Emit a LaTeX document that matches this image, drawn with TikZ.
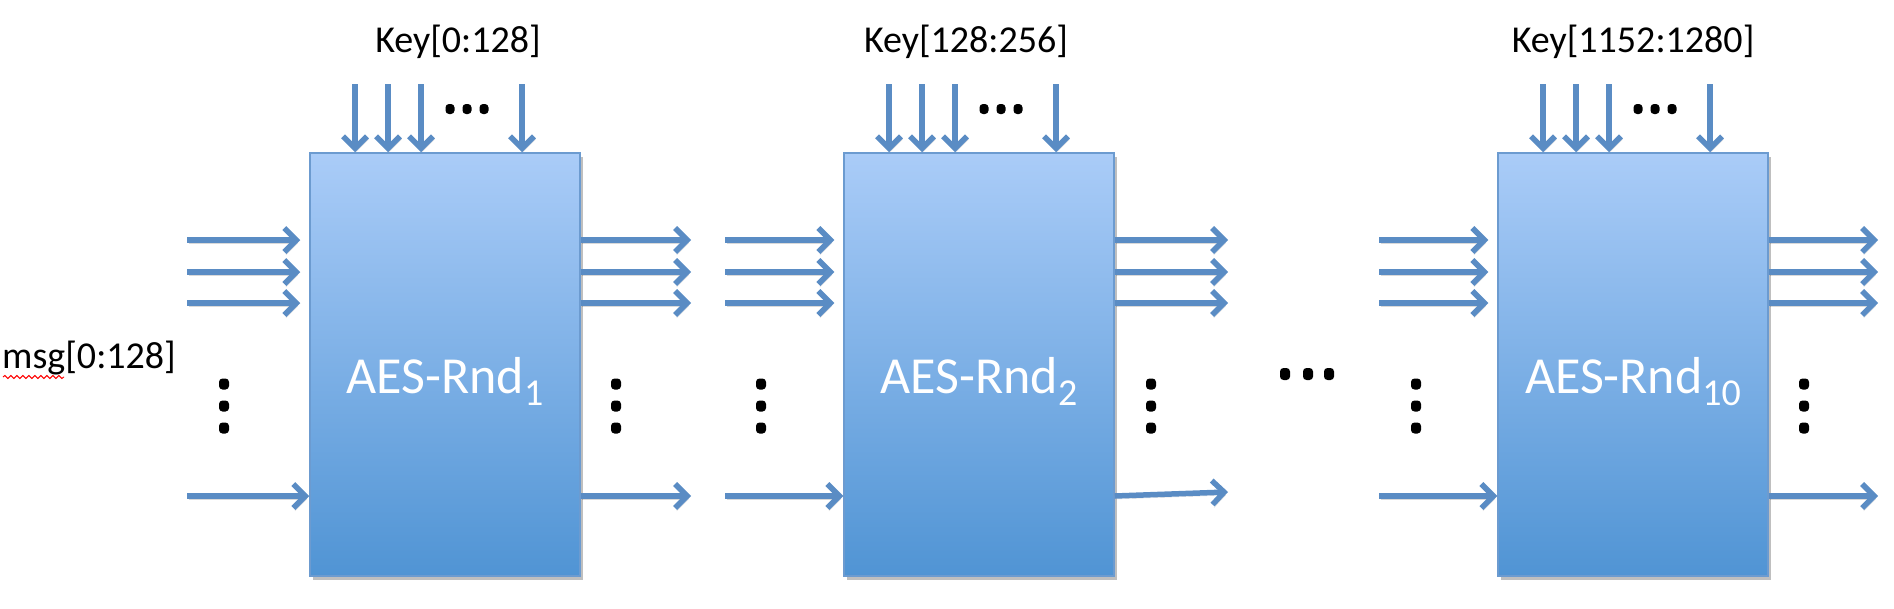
\documentclass[tikz,border=0pt]{standalone}
\usepackage{fontspec}
\setmainfont{Carlito}
\usetikzlibrary{arrows.meta,shadows,decorations.pathmorphing}
\definecolor{arrblue}{RGB}{90,140,196}
\definecolor{boxtop}{RGB}{170,204,248}
\definecolor{boxbot}{RGB}{80,148,212}
\definecolor{boxedge}{RGB}{108,155,208}
\begin{document}
\begin{tikzpicture}[x=1pt,y=-1pt,
  rnd/.style={draw=boxedge, line width=1.5pt, minimum width=270pt, minimum height=423pt, inner sep=0pt,
    top color=boxtop, bottom color=boxbot,
    drop shadow={shadow xshift=3pt,shadow yshift=-4pt,opacity=0.25,fill=black}},
  rndtxt/.style={text=white, inner sep=0pt, font=\fontsize{52}{54}\selectfont},
  keytxt/.style={text=black, inner sep=0pt, font=\fontsize{38}{40}\selectfont},
  wire/.style={draw=arrblue, line width=5.5pt, -{Straight Barb[length=12pt,width=24pt]},
    preaction={draw=black, opacity=0.15, transform canvas={xshift=1.5pt,yshift=-3pt}}},
  bigdot/.style={fill=black, rounded corners=3.5pt}]
\useasboundingbox (0,0) rectangle (1894,608);
\foreach \n/\L/\S/\E/\din/\dout/\kx/\kt/\sub in
  {1/310/187/691/224/616/458/{Key[0:128]}/1,
   2/844/725/1228/761/1151/966/{Key[128:256]}/2,
   3/1498/1379/1878/1416/1804/1633/{Key[1152:1280]}/10}{
  \node[rnd] (r\n) at (\L+135,364.5) {};
  \node[rndtxt, anchor=base] (t\n) at (\L+135,393) {AES-Rnd\raisebox{-0.24em}{\fontsize{38}{38}\selectfont\sub}};
  \node[keytxt, anchor=base] (k\n) at (\kx,52) {\kt};
  \foreach \o [count=\j] in {45,78,111,212}{
    \coordinate (ka\n\j) at (\L+\o,84);
    \draw[wire] (ka\n\j) -- (ka\n\j |- r\n.north);
  }
  \foreach \y [count=\j] in {240,272,303,496}{
    \pgfmathsetmacro\ey{(\n==2 && \j==4) ? 492 : \y}
    \pgfmathsetmacro\gap{(\j<4) ? 9 : 0}
    \coordinate (in\n\j) at (\S,\y);
    \coordinate (ie\n\j) at (in\n\j -| r\n.west);
    \coordinate (out\n\j) at (\E,\ey);
    \draw[wire] (in\n\j) -- ([xshift=-\gap pt]ie\n\j);
    \draw[wire] (in\n\j -| r\n.east) -- (out\n\j);
  }
  \foreach \yy in {384,406,428}{
    \fill[bigdot] (\din-5,\yy-5.5) rectangle (\din+5,\yy+5.5);
    \fill[bigdot] (\dout-5,\yy-5.5) rectangle (\dout+5,\yy+5.5);
  }
  \foreach \xx in {140,157,174}{
    \fill[bigdot] (\L+\xx-4.5,104) rectangle (\L+\xx+4.5,114);
  }
}
\foreach \xx in {1285,1308,1329}{
  \fill[bigdot] (\xx-5,368) rectangle (\xx+5,380);
}
\node[keytxt, anchor=base west] (msg) at (2,368) {msg[0:128]};
\draw[red, line width=1pt, decorate, decoration={snake, amplitude=1.5pt, segment length=6pt}] (3,377) -- (64,377);
\end{tikzpicture}
\end{document}
